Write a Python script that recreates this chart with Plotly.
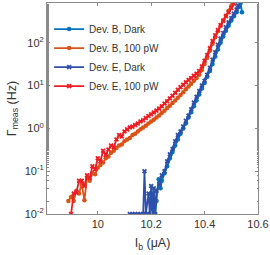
import plotly.graph_objects as go

# Dev. B, Dark
xb_dark = [10.19, 10.20, 10.205, 10.21, 10.215, 10.22, 10.228, 10.235, 10.24, 10.25, 10.26, 10.27,
           10.28, 10.29, 10.30, 10.31, 10.32, 10.33, 10.34, 10.35, 10.36, 10.37, 10.38, 10.39,
           10.40, 10.41, 10.42, 10.43, 10.44, 10.45, 10.46, 10.47, 10.48, 10.49, 10.50, 10.51,
           10.52, 10.53, 10.535, 10.54]
yb_dark = [0.01, 0.01, 0.03, 0.01, 0.01, 0.02, 0.065, 0.04, 0.06, 0.09, 0.13, 0.2,
           0.28, 0.4, 0.55, 0.75, 1.0, 1.3, 1.8, 2.4, 3.3, 4.5, 6.2, 8.5,
           11.5, 16, 22, 32, 48, 70, 100, 140, 190, 250, 330, 420,
           520, 700, 850, 520]

# Dev. B, 100 pW
xb_light = [9.89, 9.90, 9.91, 9.92, 9.93, 9.94, 9.95, 9.96, 9.97, 9.98, 9.99, 10.00,
            10.01, 10.02, 10.03, 10.04, 10.05, 10.06, 10.07, 10.08, 10.09, 10.10, 10.11, 10.12,
            10.13, 10.14, 10.15, 10.16, 10.17, 10.18, 10.19, 10.20, 10.21, 10.22, 10.23, 10.24,
            10.25, 10.26, 10.27, 10.28, 10.29, 10.30, 10.31, 10.32, 10.33, 10.34, 10.35, 10.36,
            10.37, 10.38, 10.39, 10.40, 10.41, 10.42, 10.43, 10.44, 10.45, 10.46, 10.47, 10.48,
            10.49, 10.50, 10.505]
yb_light = [0.02, 0.025, 0.02, 0.035, 0.03, 0.05, 0.021, 0.07, 0.06, 0.09, 0.085, 0.12,
            0.14, 0.16, 0.2, 0.22, 0.27, 0.3, 0.35, 0.4, 0.42, 0.5, 0.55, 0.6,
            0.7, 0.75, 0.85, 0.95, 1.05, 1.15, 1.3, 1.45, 1.6, 1.8, 2.0, 2.3,
            2.6, 3.0, 3.4, 3.9, 4.5, 5.2, 6.0, 7.0, 8.2, 9.5, 11, 13,
            15, 18, 23, 32, 45, 65, 95, 135, 185, 250, 330, 430,
            560, 720, 850]

# Dev. E, Dark
xe_dark = [10.12, 10.13, 10.14, 10.15, 10.16, 10.17, 10.175, 10.18, 10.19, 10.195, 10.20, 10.205,
           10.21, 10.215, 10.22, 10.23, 10.24, 10.25, 10.26, 10.27, 10.28, 10.29, 10.30, 10.31,
           10.32, 10.33, 10.34, 10.35, 10.36, 10.37, 10.38, 10.39, 10.40, 10.41, 10.42, 10.43,
           10.44, 10.45, 10.46, 10.47, 10.48, 10.49, 10.50, 10.51, 10.52, 10.525]
ye_dark = [0.01, 0.01, 0.01, 0.01, 0.01, 0.01, 0.1, 0.01, 0.03, 0.01, 0.045, 0.01,
           0.04, 0.01, 0.035, 0.05, 0.08, 0.1, 0.17, 0.25, 0.33, 0.5, 0.7, 0.85,
           1.1, 1.5, 2.0, 2.8, 4.0, 5.5, 7.5, 10, 13, 18, 26, 40,
           60, 90, 125, 170, 230, 300, 380, 480, 600, 750]

# Dev. E, 100 pW
xe_light = [9.90, 9.91, 9.92, 9.93, 9.94, 9.95, 9.96, 9.97, 9.98, 9.99, 10.00, 10.01,
            10.02, 10.03, 10.04, 10.05, 10.06, 10.07, 10.08, 10.09, 10.10, 10.11, 10.12, 10.13,
            10.14, 10.15, 10.16, 10.17, 10.18, 10.19, 10.20, 10.21, 10.22, 10.23, 10.24, 10.25,
            10.26, 10.27, 10.28, 10.29, 10.30, 10.31, 10.32, 10.33, 10.34, 10.35, 10.36, 10.37,
            10.38, 10.39, 10.40, 10.41, 10.42, 10.43, 10.44, 10.45, 10.46, 10.47, 10.48, 10.49,
            10.50, 10.51]
ye_light = [0.01, 0.03, 0.032, 0.06, 0.06, 0.045, 0.08, 0.07, 0.13, 0.11, 0.2, 0.17,
            0.3, 0.24, 0.32, 0.4, 0.36, 0.55, 0.7, 0.65, 0.85, 0.95, 1.05, 1.1,
            1.2, 1.3, 1.45, 1.55, 1.75, 1.95, 2.15, 2.35, 2.6, 2.9, 3.3, 3.8,
            4.3, 5.0, 5.8, 6.8, 8.0, 9.2, 10.5, 12, 13.5, 15, 17, 19,
            22, 28, 38, 52, 75, 110, 150, 200, 260, 330, 420, 520,
            650, 820]

x_ticks = [10, 10.2, 10.4, 10.6]
x_ticklabels = ["10", "10.2", "10.4", "10.6"]
y_ticks = [0.01, 0.1, 1, 10, 100]
y_ticklabels = ["10<sup>-2</sup>", "10<sup>-1</sup>", "10<sup>0</sup>", "10<sup>1</sup>", "10<sup>2</sup>"]

series = [
    ("Dev. B, Dark", xb_dark, yb_dark, "#0072BD", "circle", 4.5),
    ("Dev. B, 100 pW", xb_light, yb_light, "#D95319", "circle", 4.5),
    ("Dev. E, Dark", xe_dark, ye_dark, "#2F4FA8", "x", 4.5),
    ("Dev. E, 100 pW", xe_light, ye_light, "#EE1C25", "x", 4.5),
]

fig = go.Figure()
for name, xs, ys, col, sym, sz in series:
    fig.add_trace(go.Scatter(
        x=xs, y=ys, name=name, mode="lines+markers",
        line=dict(color=col, width=1.8),
        marker=dict(color=col, symbol=sym, size=sz, line=dict(width=0)),
    ))

axcol = "#8a8a8a"
fig.update_layout(
    width=270, height=255,
    margin=dict(l=47, r=12, t=3, b=41),
    paper_bgcolor="white", plot_bgcolor="white",
    font=dict(family="Liberation Sans, Arial, sans-serif", size=11, color="#333333"),
    showlegend=True,
    legend=dict(x=0.01, y=0.945, xanchor="left", yanchor="top",
                bgcolor="rgba(0,0,0,0)", font=dict(size=10, color="#333333"),
                itemwidth=30, tracegroupgap=0),
    xaxis=dict(
        range=[9.81, 10.6], tickvals=x_ticks, ticktext=x_ticklabels,
        ticks="inside", ticklen=3, tickcolor=axcol, automargin=False,
        showline=True, linecolor=axcol, linewidth=1, mirror="ticks",
        showgrid=False, zeroline=False,
        title=dict(text="I<sub>b</sub> (μA)", standoff=9, font=dict(size=12.5)),
    ),
    yaxis=dict(
        type="log", range=[-2, 2.93], tickvals=y_ticks, ticktext=y_ticklabels,
        ticks="inside", ticklen=3, tickcolor=axcol, automargin=False,
        minor=dict(ticks="inside", ticklen=1.5, tickcolor=axcol, showgrid=False),
        showline=True, linecolor=axcol, linewidth=1, mirror="ticks",
        showgrid=False, zeroline=False,
        title=dict(text="Γ<sub>meas</sub> (Hz)", standoff=5, font=dict(size=12.5)),
    ),
)

fig.write_html("out.html", config={"displayModeBar": False},
               post_script="document.body.style.margin='0px';")
